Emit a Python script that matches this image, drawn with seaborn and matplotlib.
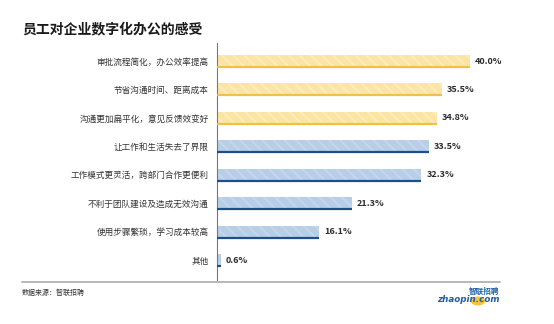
import matplotlib
matplotlib.use("Agg")
import matplotlib.pyplot as plt
import seaborn as sns
import pandas as pd
from matplotlib.patches import Circle
from matplotlib.lines import Line2D

categories = ["审批流程简化，办公效率提高", "节省沟通时间、距离成本", "沟通更加扁平化，意见反馈效变好",
              "让工作和生活失去了界限", "工作模式更灵活，跨部门合作更便利", "不利于团队建设及造成无效沟通",
              "使用步骤繁琐，学习成本较高", "其他"]
values = [40.0, 35.5, 34.8, 33.5, 32.3, 21.3, 16.1, 0.6]
groups = ["pos", "pos", "pos", "neg", "neg", "neg", "neg", "neg"]
value_labels = ["40.0%", "35.5%", "34.8%", "33.5%", "32.3%", "21.3%", "16.1%", "0.6%"]
title = "员工对企业数字化办公的感受"
source = "数据来源：智联招聘"

sns.set_theme(style="white")
plt.rcParams['font.family'] = ['Noto Sans CJK SC', 'DejaVu Sans']
plt.rcParams['hatch.linewidth'] = 1.4

df = pd.DataFrame({"cat": categories, "val": values, "grp": groups})

W, H = 554, 324
fig = plt.figure(figsize=(W / 100, H / 100), dpi=100)
left_px, right_px, top_px, bot_px = 217, 217 + 6.325 * 50, 43, 280
ax = fig.add_axes([left_px / W, 1 - bot_px / H, (right_px - left_px) / W, (bot_px - top_px) / H])

fills = {"pos": "#FCE5A2", "neg": "#B8CEE6"}
stripes = {"pos": "#FDECBD", "neg": "#C4D7EC"}
lines = {"pos": "#F2C04A", "neg": "#1D4F8C"}

sns.barplot(data=df, x="val", y="cat", orient="h", ax=ax, width=0.42,
            color=fills["pos"], saturation=1)

for patch, g, lab in zip(ax.patches, groups, value_labels):
    patch.set_facecolor(fills[g])
    patch.set_edgecolor(stripes[g])
    patch.set_linewidth(0)
    patch.set_hatch("\\\\\\")
    x0 = patch.get_x()
    w = patch.get_width()
    yb = patch.get_y() + patch.get_height()
    ax.plot([x0, x0 + w], [yb, yb], color=lines[g], lw=1.6, solid_capstyle="butt", zorder=3)
    ax.text(x0 + w + 0.8, patch.get_y() + patch.get_height() / 2, lab, va="center", ha="left",
            fontsize=6.5, fontweight="bold", color="#2a2a2a")

ax.set_xlim(0, 50)
ax.set_ylim(7.70, -0.633)
ax.set_xlabel("")
ax.set_ylabel("")
ax.set_xticks([])
ax.tick_params(axis="y", length=0, pad=6, labelsize=6.2, labelcolor="#333333")
for s in ["top", "right", "bottom"]:
    ax.spines[s].set_visible(False)
ax.spines["left"].set_color("#777777")
ax.spines["left"].set_linewidth(0.8)

fig.text(22 / W, 1 - 29 / H, title, fontsize=10, fontweight="bold", color="#1a1a1a", va="center", ha="left")
fig.add_artist(Line2D([22 / W, 500 / W], [1 - 282 / H, 1 - 282 / H], color="#AAAAAA", lw=1.2))
fig.text(22 / W, 1 - 293 / H, source, fontsize=5, color="#333333", va="center", ha="left")

# logo
fig.add_artist(Circle((478 / W, 1 - 301 / H), 6.5 / W, transform=fig.transFigure, color="#F7C533",
                      zorder=1))
fig.text(500 / W, 1 - 300 / H, "zhaopin.com", fontsize=6.3, fontweight="bold", style="italic",
         color="#1B5FA8", va="center", ha="right", family="DejaVu Sans", zorder=2)
fig.text(499 / W, 1 - 291 / H, "智联招聘", fontsize=5.5, fontweight="bold", style="italic",
         color="#1B5FA8", va="center", ha="right", zorder=2)

fig.savefig("out.png", dpi=100)
